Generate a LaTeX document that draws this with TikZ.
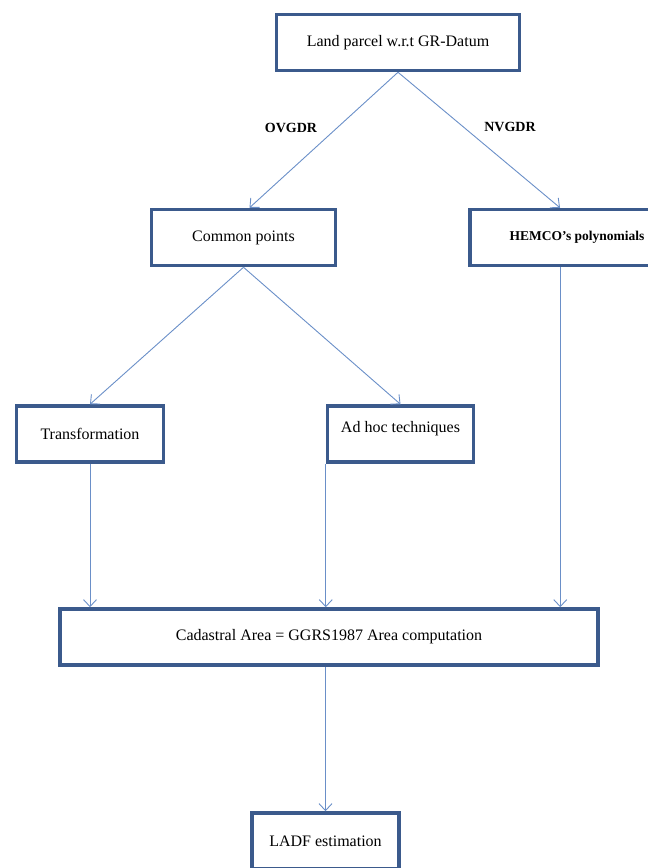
\documentclass[tikz,border=0pt]{standalone}
\usepackage{fontspec}
\setmainfont{Liberation Serif}
\usetikzlibrary{arrows.meta}
\definecolor{boxblue}{HTML}{3B5A8C}
\definecolor{linkblue}{HTML}{6A8FC8}

\begin{document}
\begin{tikzpicture}[x=1pt,y=-1pt]
    \tikzstyle{stage}=[draw=boxblue,line width=3.5pt,fill=white,font=\fontsize{16}{19}\selectfont,minimum height=56pt]
    \tikzstyle{route}=[font=\bfseries\fontsize{14}{17}\selectfont]
    \tikzstyle{fwd} = [draw=linkblue, line width=0.9pt, -{Straight Barb[length=7pt,width=13pt]}]

    \def\ry{237.5}
    \def\ly{434}

    \useasboundingbox (0,0) rectangle (648,868);

    % top
    \node[stage,minimum width=243pt]  (land)  at (398,42.5) {Land parcel w.r.t GR-Datum};
    \node[route]  (ov) at (291,128) {OVGDR};
    \node[route]  (nv) at (510,127) {NVGDR};

    % second row
    \node[stage,minimum width=184pt]  (common) at (243.5,\ry) {Common points};
    \node[stage,minimum width=214pt,font=\bfseries\fontsize{13.5}{16}\selectfont]  (hemco) at (577,\ry) {HEMCO's polynomials};

    % third row
    \node[stage,minimum width=147pt]  (trans) at (90,\ly) {Transformation};
    \node[stage,minimum width=146pt,text depth=14pt]  (adhoc) at (400.5,\ly) {Ad hoc techniques};

    % bottom
    \node[stage,minimum width=538pt]  (cad)  at (329,637) {Cadastral Area = GGRS1987 Area computation};
    \node[stage,minimum width=147pt]  (ladf) at (325.5,841) {LADF estimation};

   \draw [fwd] (land.south) -- ([xshift=6pt]common.north);
   \draw [fwd] (land.south) -- ([xshift=-17pt]hemco.north);

   \draw [fwd] (common.south) -- (trans.north);
   \draw [fwd] (common.south) -- (adhoc.north);

   \draw [fwd] (trans.south) -- (trans.south |- cad.north);
   \draw [fwd] (adhoc.south west) -- (adhoc.south west |- cad.north);
   \draw [fwd] ([xshift=92pt]hemco.south west) -- ([xshift=92pt]hemco.south west |- cad.north);

   \draw [fwd] (ladf.north |- cad.south) -- (ladf.north);

\end{tikzpicture}
\end{document}
